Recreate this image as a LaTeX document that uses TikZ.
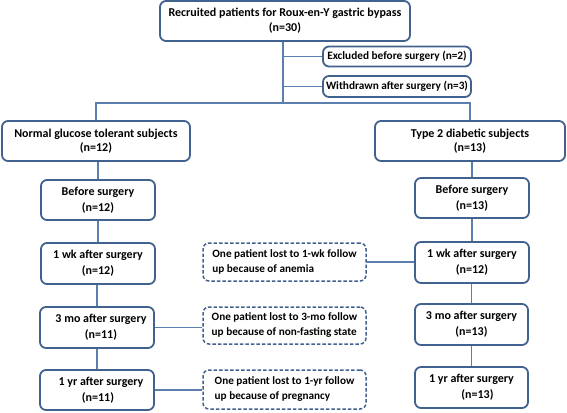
\documentclass[tikz,border=0pt]{standalone}
\usepackage{fontspec}
\setmainfont{Carlito}
\begin{document}
\begin{tikzpicture}[x=1pt,y=-1pt,
  box/.style={draw=boxblue, line width=1.8pt, rounded corners=6pt, fill=white, inner sep=0pt, align=center, font=\fontsize{12}{16}\selectfont\bfseries},
  dbox/.style={draw=boxblue, line width=1.5pt, dash pattern=on 3.5pt off 2pt, rounded corners=6pt, fill=white, inner sep=0pt, align=left, font=\fontsize{11.2}{15}\selectfont\bfseries},
  conn/.style={draw=lineblue, line width=1.2pt}]
\definecolor{boxblue}{HTML}{41618F}
\definecolor{lineblue}{HTML}{5B80B0}
\useasboundingbox (0,0) rectangle (567,412);
% nodes
\node[box, minimum width=250pt, minimum height=40pt, font=\fontsize{12}{15}\selectfont\bfseries] (top) at (285,21) {Recruited patients for Roux-en-Y gastric bypass\\(n=30)};
\node[box, minimum width=148pt, minimum height=20pt, font=\fontsize{11.3}{14}\selectfont\bfseries] (excl) at (397,56.5) {Excluded before surgery (n=2)};
\node[box, minimum width=148pt, minimum height=21pt, font=\fontsize{11.3}{14}\selectfont\bfseries] (withd) at (397,86.5) {Withdrawn after surgery (n=3)};
\node[box, minimum width=188pt, minimum height=40pt, font=\fontsize{12}{13.5}\selectfont\bfseries] (ngt) at (96,141) {Normal glucose tolerant subjects\\(n=12)};
\node[box, minimum width=190pt, minimum height=40pt, font=\fontsize{12}{13.5}\selectfont\bfseries] (t2d) at (470,141) {Type 2 diabetic subjects\\(n=13)};
\node[box, minimum width=114pt, minimum height=40pt] (bL) at (98,200) {Before surgery\hspace{8pt}\\(n=12)};
\node[box, minimum width=114pt, minimum height=41pt] (wL) at (98,263.5) {1 wk after surgery\\(n=12)};
\node[box, minimum width=114pt, minimum height=41pt] (mL) at (97,327.5) {\hspace{8pt}3 mo after surgery\\\hspace{8pt}(n=11)};
\node[box, minimum width=114pt, minimum height=40pt] (yL) at (97,390) {\hspace{8pt}1 yr after surgery\\\hspace{2pt}(n=11)};
\node[box, minimum width=114pt, minimum height=40pt] (bR) at (472,198) {Before surgery\\(n=13)};
\node[box, minimum width=114pt, minimum height=41pt] (wR) at (472,262.5) {1 wk after surgery\\(n=12)};
\node[box, minimum width=113pt, minimum height=41pt] (mR) at (471.5,324.5) {3 mo after surgery\\(n=13)};
\node[box, minimum width=113pt, minimum height=41pt] (yR) at (471.5,387.5) {1 yr after surgery\hspace{6pt}\\\hspace{12pt}(n=13)};
\node[dbox, minimum width=163pt, minimum height=38pt] (d1) at (284.5,262) {One patient lost to 1-wk follow\\up because of anemia};
\node[dbox, minimum width=163pt, minimum height=37pt] (d2) at (284.5,325.5) {One patient lost to 3-mo follow\\up because of non-fasting state};
\node[dbox, minimum width=163pt, minimum height=39pt] (d3) at (284.5,389.5) {One patient lost to 1-yr follow\\up because of pregnancy};
\coordinate (split) at (283,103);
% connectors
\draw[conn] (top.south -| split) -- (split);
\draw[conn] (excl.west -| split) -- (excl.west);
\draw[conn] (withd.west -| split) -- (withd.west);
\draw[conn] (ngt.north) -- (ngt.north |- split) -- (t2d.north |- split) -- (t2d.north);
\draw[conn] (bL.north) -- (bL.north |- ngt.south);
\draw[conn] (bL.south) -- (bL.south |- wL.north);
\draw[conn] (mL.north) -- (mL.north |- wL.south);
\draw[conn] (mL.south) -- (yL.north);
\draw[conn] (bR.north) -- (bR.north |- t2d.south);
\draw[conn] (bR.south) -- (wR.north);
\draw[conn] (mR.north) -- (mR.north |- wR.south);
\draw[conn] (mR.south) -- (yR.north);
\draw[conn] (d1.east) -- (d1.east -| wR.west);
\draw[conn] (mL.east) -- (mL.east -| d2.west);
\draw[conn] (yL.east) -- (yL.east -| d3.west);
\end{tikzpicture}
\end{document}
